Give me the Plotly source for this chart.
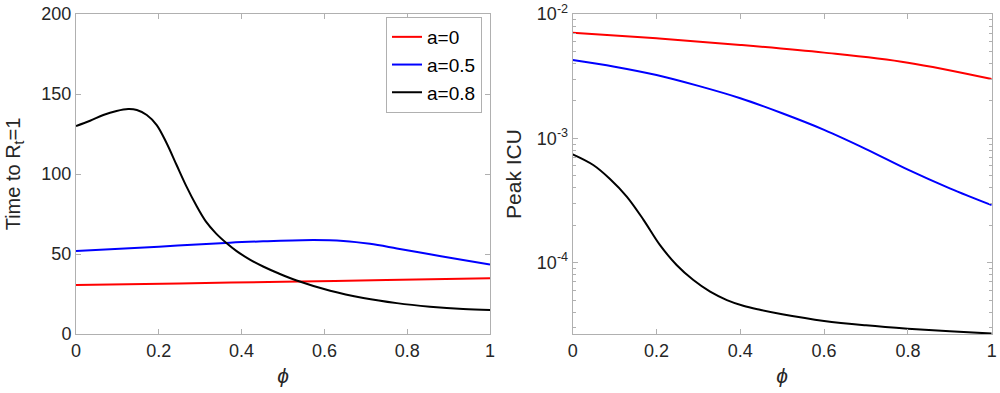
import plotly.graph_objects as go

# ---- data ----
phi_left = [0, 0.034, 0.066, 0.098, 0.126, 0.147, 0.171, 0.195, 0.219, 0.243, 0.267, 0.29, 0.314,
            0.338, 0.364, 0.388, 0.42, 0.452, 0.49, 0.533, 0.614, 0.694, 0.775, 0.855, 0.935, 1.0]
t_a08 = [130, 133.3, 136.9, 139.4, 140.6, 140, 136.9, 130.6, 119.2, 105.6, 92.1, 80.6, 70.2,
         62.9, 56.7, 51.8, 46.5, 42.2, 37.8, 33.4, 27.0, 22.5, 19.3, 17.1, 15.6, 15.0]

phi_b = [0, 0.2, 0.372, 0.452, 0.573, 0.646, 0.71, 0.775, 0.855, 0.935, 1.0]
t_a05 = [51.9, 54.6, 57.1, 57.9, 58.75, 58.2, 56.4, 53.5, 49.8, 46.25, 43.5]

phi_r = [0, 0.25, 0.5, 0.75, 1.0]
t_a0 = [30.6, 31.6, 32.7, 33.7, 34.8]

phi_icu_r = [0, 0.2, 0.4, 0.6, 0.8, 1.0]
icu_a0 = [7.07e-3, 6.37e-3, 5.64e-3, 4.89e-3, 4.06e-3, 3.0e-3]

phi_icu_b = [0, 0.1, 0.2, 0.3, 0.4, 0.5, 0.6, 0.7, 0.8, 0.9, 1.0]
icu_a05 = [4.27e-3, 3.77e-3, 3.23e-3, 2.64e-3, 2.1e-3, 1.59e-3, 1.17e-3, 8.2e-4, 5.6e-4, 3.96e-4, 2.9e-4]

phi_icu_k = [0, 0.049, 0.089, 0.129, 0.169, 0.208, 0.248, 0.288, 0.328, 0.368, 0.407, 0.447,
             0.5, 0.6, 0.7, 0.8, 0.9, 1.0]
icu_a08 = [7.43e-4, 6.1e-4, 4.71e-4, 3.4e-4, 2.21e-4, 1.39e-4, 9.57e-5, 7.24e-5, 5.84e-5, 5.0e-5,
           4.5e-5, 4.18e-5, 3.85e-5, 3.4e-5, 3.13e-5, 2.94e-5, 2.8e-5, 2.69e-5]

names = ["a=0", "a=0.5", "a=0.8"]
colors = ["#ff0000", "#0000ff", "#000000"]

x_ticks = [0, 0.2, 0.4, 0.6, 0.8, 1]
x_ticktext = ["0", "0.2", "0.4", "0.6", "0.8", "1"]
y1_ticks = [0, 50, 100, 150, 200]
y2_ticks = [1e-4, 1e-3, 1e-2]
y2_ticktext = ["10<sup>-4</sup>", "10<sup>-3</sup>", "10<sup>-2</sup>"]
y2_minor = [m * 10 ** e for e in (-5, -4, -3) for m in range(2, 10)]

LW = 2
fig = go.Figure()
fig.add_trace(go.Scatter(x=phi_r, y=t_a0, mode="lines", name=names[0],
                         line=dict(color=colors[0], width=LW, shape="spline"), xaxis="x", yaxis="y"))
fig.add_trace(go.Scatter(x=phi_b, y=t_a05, mode="lines", name=names[1],
                         line=dict(color=colors[1], width=LW, shape="spline"), xaxis="x", yaxis="y"))
fig.add_trace(go.Scatter(x=phi_left, y=t_a08, mode="lines", name=names[2],
                         line=dict(color=colors[2], width=LW, shape="spline"), xaxis="x", yaxis="y"))

fig.add_trace(go.Scatter(x=phi_icu_r, y=icu_a0, mode="lines", showlegend=False,
                         line=dict(color=colors[0], width=LW, shape="spline"), xaxis="x2", yaxis="y2"))
fig.add_trace(go.Scatter(x=phi_icu_b, y=icu_a05, mode="lines", showlegend=False,
                         line=dict(color=colors[1], width=LW, shape="spline"), xaxis="x2", yaxis="y2"))
fig.add_trace(go.Scatter(x=phi_icu_k, y=icu_a08, mode="lines", showlegend=False,
                         line=dict(color=colors[2], width=LW, shape="spline"), xaxis="x2", yaxis="y2"))

FONT = "Liberation Sans, Arial"
axis_common = dict(showline=True, linecolor="#b0b0b0", linewidth=1, mirror="ticks",
                   ticks="inside", ticklen=5, tickcolor="#b0b0b0", showgrid=False, zeroline=False,
                   automargin=False,
                   tickfont=dict(family=FONT, size=18, color="#262626"))

W, H = 1000, 393
def px_x(p):
    return p / W
def px_y(p):
    return 1 - p / H

ydom = [px_y(334), px_y(14)]
xtitle = dict(text="<i>ϕ</i>", standoff=8, font=dict(family=FONT, size=21, color="#262626"))
fig.update_layout(
    template="none",
    width=W, height=H,
    margin=dict(l=0, r=0, t=0, b=0, pad=0),
    paper_bgcolor="white", plot_bgcolor="white",
    font=dict(family=FONT, size=18, color="#262626"),
    xaxis=dict(domain=[px_x(76), px_x(490)], range=[0, 1], tickvals=x_ticks, ticktext=x_ticktext,
               title=xtitle, anchor="y", **axis_common),
    yaxis=dict(domain=ydom, range=[0, 200], tickvals=y1_ticks,
               title=dict(text="Time to R<sub>t</sub>=1", standoff=15,
                          font=dict(family=FONT, size=20, color="#262626")),
               anchor="x", **axis_common),
    xaxis2=dict(domain=[px_x(572.7), px_x(991.7)], range=[0, 1], tickvals=x_ticks, ticktext=x_ticktext,
                title=xtitle, anchor="y2", **axis_common),
    yaxis2=dict(domain=ydom, type="log", range=[-4.574, -2], tickvals=y2_ticks, ticktext=y2_ticktext,
                title=dict(text="Peak ICU", standoff=9,
                           font=dict(family=FONT, size=21, color="#262626")),
                anchor="x2",
                minor=dict(tickmode="array", tickvals=y2_minor, ticks="inside", ticklen=3,
                           tickcolor="#b0b0b0", showgrid=False),
                **axis_common),
    legend=dict(x=px_x(482), xanchor="right", y=px_y(17), yanchor="top",
                bordercolor="#b0b0b0", borderwidth=1, bgcolor="white",
                font=dict(family=FONT, size=19, color="#000000"),
                itemwidth=30, tracegroupgap=0),
)

# remove the default page margin so the figure sits at the window's top-left corner
fig.write_html("out.html", post_script="document.body.style.margin='0';",
               config={"displayModeBar": False})
